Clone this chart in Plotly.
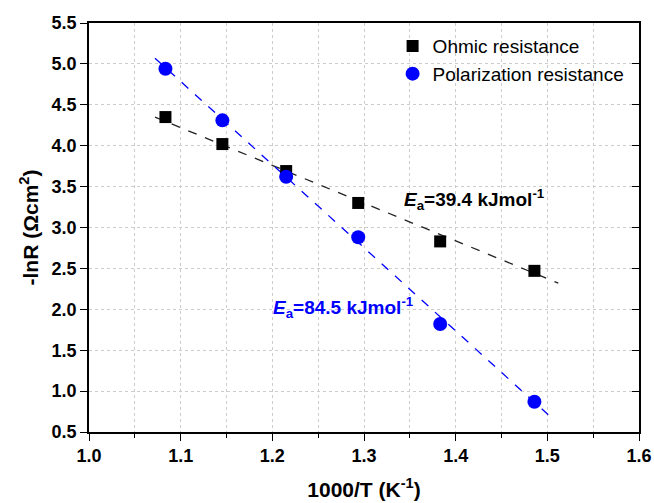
import plotly.graph_objects as go

# Data
inv_T = [1.0834, 1.1455, 1.2151, 1.2937, 1.3831, 1.4859]
ohmic = [4.35, 4.02, 3.69, 3.30, 2.83, 2.47]
polarization = [4.94, 4.31, 3.62, 2.88, 1.82, 0.87]

# Fitted-line end points
ohmic_fit_x = [1.072, 1.512]
ohmic_fit_y = [4.35, 2.32]
pol_fit_x = [1.072, 1.501]
pol_fit_y = [5.07, 0.71]

x_ticks = [1.0, 1.1, 1.2, 1.3, 1.4, 1.5, 1.6]
y_ticks = [0.5, 1.0, 1.5, 2.0, 2.5, 3.0, 3.5, 4.0, 4.5, 5.0, 5.5]

FONT = "Liberation Sans, Arial, sans-serif"

fig = go.Figure()

fig.add_trace(go.Scatter(x=ohmic_fit_x, y=ohmic_fit_y, mode="lines",
                         line=dict(color="#222222", width=1.3, dash="dash"),
                         showlegend=False, hoverinfo="skip"))
fig.add_trace(go.Scatter(x=pol_fit_x, y=pol_fit_y, mode="lines",
                         line=dict(color="#0000FF", width=1.3, dash="dash"),
                         showlegend=False, hoverinfo="skip"))
fig.add_trace(go.Scatter(x=inv_T, y=ohmic, mode="markers", name="Ohmic resistance",
                         marker=dict(symbol="square", size=12, color="black")))
fig.add_trace(go.Scatter(x=inv_T, y=polarization, mode="markers", name="Polarization resistance",
                         marker=dict(symbol="circle", size=14, color="#0000FF")))

# secondary y axis for inward ticks on the right frame
fig.add_trace(go.Scatter(x=[None], y=[None], yaxis="y2", showlegend=False, hoverinfo="skip"))

fig.add_annotation(x=1.341, y=3.34, xanchor="left", yanchor="middle", showarrow=False,
                   text="<b><i>E</i><sub>a</sub>=39.4 kJmol<sup>-1</sup></b>",
                   font=dict(family=FONT, size=19, color="black"))
fig.add_annotation(x=1.199, y=2.02, xanchor="left", yanchor="middle", showarrow=False,
                   text="<b><i>E</i><sub>a</sub>=84.5 kJmol<sup>-1</sup></b>",
                   font=dict(family=FONT, size=19, color="#0000FF"))

fig.update_layout(
    width=654, height=503,
    margin=dict(l=89, r=15, t=23, b=71),
    plot_bgcolor="white", paper_bgcolor="white",
    font=dict(family=FONT, color="black"),
    showlegend=True,
    legend=dict(x=0.552, y=0.99, xanchor="left", yanchor="top",
                bgcolor="rgba(0,0,0,0)", font=dict(family=FONT, size=19, color="black"),
                tracegroupgap=0, itemwidth=30),
    xaxis=dict(range=[1.0, 1.6], tickvals=x_ticks, ticktext=[f"{v:.1f}" for v in x_ticks],
               ticks="outside", ticklen=7, tickwidth=1.3, tickcolor="black",
               showline=True, linecolor="black", linewidth=1.5, mirror=True,
               showgrid=True, gridcolor="#cccccc", griddash="dot", gridwidth=1,
               minor=dict(dtick=0.05, ticks="outside", ticklen=4, tickcolor="black", tickwidth=1.3,
                          showgrid=True, gridcolor="#cccccc", griddash="dot", gridwidth=1),
               zeroline=False, automargin=False,
               tickfont=dict(family=FONT, size=18, color="black", weight="bold"),
               title=dict(text="<b>1000/T (K<sup>-1</sup>)</b>", standoff=17,
                          font=dict(family=FONT, size=21, color="black"))),
    yaxis=dict(range=[0.5, 5.5], tickvals=y_ticks, ticktext=[f"{v:.1f}" for v in y_ticks],
               ticks="outside", ticklen=7, tickwidth=1.3, tickcolor="black",
               showline=True, linecolor="black", linewidth=1.5, mirror=True,
               showgrid=True, gridcolor="#cccccc", griddash="dot", gridwidth=1,
               zeroline=False, automargin=False,
               tickfont=dict(family=FONT, size=18, color="black", weight="bold"),
               title=dict(text="<b>-lnR (Ωcm<sup>2</sup>)</b>", standoff=7,
                          font=dict(family=FONT, size=21, color="black"))),
    yaxis2=dict(range=[0.5, 5.5], tickvals=y_ticks, overlaying="y", side="right",
                ticks="inside", ticklen=7, tickwidth=1.3, tickcolor="black",
                showticklabels=False, showgrid=False, zeroline=False, showline=False,
                automargin=False),
)

fig.write_html("out.html", config={"displayModeBar": False},
               post_script="document.body.style.margin='0px';document.body.style.padding='0px';")
